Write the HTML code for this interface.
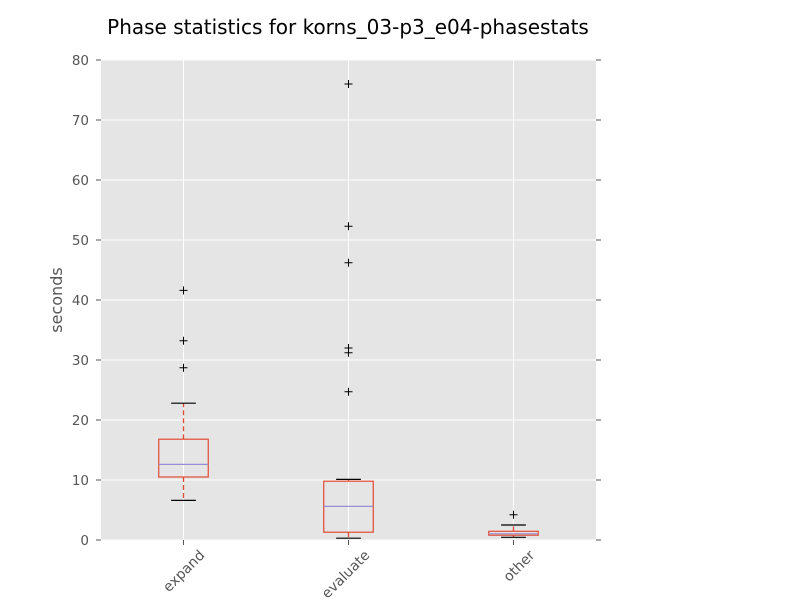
<!DOCTYPE html>
<html><head><meta charset="utf-8"><style>
body{margin:0;background:#fff;}
svg{font-family:"DejaVu Sans","Liberation Sans",sans-serif;}
</style></head><body>
<svg id="chart" width="800" height="600">
<rect x="0" y="0" width="800" height="600" fill="#fff"/>
<rect x="101" y="60" width="495" height="480" fill="#e5e5e5"/>
<g id="grid"></g><g id="ticks"></g><g id="marks"></g>
<text x="348" y="34" font-size="20" text-anchor="middle" fill="#000">Phase statistics for korns_03-p3_e04-phasestats</text>
<text x="62" y="300" font-size="16" text-anchor="middle" fill="#555" transform="rotate(-90 62 300)">seconds</text>
</svg>
<script>
const categories=["expand","evaluate","other"];
const q1=[10.5,1.3,0.8];
const median=[12.6,5.6,1.05];
const q3=[16.8,9.8,1.45];
const whiskerLow=[6.6,0.3,0.45];
const whiskerHigh=[22.8,10.1,2.5];
const outliers=[[41.6,33.2,28.7],[76,52.3,46.2,32,31.2,24.7],[4.2]];
const yTicks=[0,10,20,30,40,50,60,70,80];
const NS="http://www.w3.org/2000/svg";
const X0=101,X1=596,Y0=540,Y1=60,YMAX=80;
const y=v=>Y0-(v/YMAX)*(Y0-Y1);
const step=(X1-X0)/categories.length;
const x=i=>X0+step*(i+0.5);
function mk(tag,attrs,parent){const e=document.createElementNS(NS,tag);for(const k in attrs)e.setAttribute(k,attrs[k]);document.getElementById(parent).appendChild(e);return e;}
yTicks.forEach(t=>{
  let g=mk('line',{x1:X0,x2:X1,y1:y(t),y2:y(t),stroke:'#fff','stroke-width':1},'grid');
  
  
  let a=mk('line',{x1:X0-5,x2:X0,y1:y(t),y2:y(t),stroke:'#555'},'ticks');
  
  
  let b=mk('line',{x1:X1,x2:X1+5,y1:y(t),y2:y(t),stroke:'#555'},'ticks');
  
  
  let l=mk('text',{x:X0-12,y:y(t)+5,'font-size':13.5,'text-anchor':'end',fill:'#555'},'ticks');
  l.textContent=t;
  
  
});
categories.forEach((c,i)=>{
  const cx=x(i);
  let g=mk('line',{x1:cx,x2:cx,y1:Y1,y2:Y0,stroke:'#fff'},'grid');
  
  
  let t=mk('line',{x1:cx,x2:cx,y1:Y0,y2:Y0+5,stroke:'#555'},'ticks');
  
  
  const lx=cx+22,ly=Y0+16;
  let l=mk('text',{x:lx,y:ly,'font-size':14,'text-anchor':'end',fill:'#555',transform:`rotate(-45 ${lx} ${ly})`},'ticks');
  l.textContent=c;
  
  
  const bw=step*0.3,cw=bw/2;
  let w1=mk('line',{x1:cx,x2:cx,y1:y(q3[i]),y2:y(whiskerHigh[i]),stroke:'#E24A33','stroke-width':1.3,'stroke-dasharray':'5,3'},'marks');
  
  
  let w2=mk('line',{x1:cx,x2:cx,y1:y(q1[i]),y2:y(whiskerLow[i]),stroke:'#E24A33','stroke-width':1.3,'stroke-dasharray':'5,3'},'marks');
  
  
  let c1=mk('line',{x1:cx-cw/2,x2:cx+cw/2,y1:y(whiskerHigh[i]),y2:y(whiskerHigh[i]),stroke:'#000','stroke-width':1.2},'marks');
  
  
  let c2=mk('line',{x1:cx-cw/2,x2:cx+cw/2,y1:y(whiskerLow[i]),y2:y(whiskerLow[i]),stroke:'#000','stroke-width':1.2},'marks');
  
  
  let b=mk('rect',{x:cx-bw/2,y:y(q3[i]),width:bw,height:y(q1[i])-y(q3[i]),fill:'none',stroke:'#E24A33','stroke-width':1.2},'marks');
  
  
  let m=mk('line',{x1:cx-bw/2,x2:cx+bw/2,y1:y(median[i]),y2:y(median[i]),stroke:'#988ED5','stroke-width':1.2},'marks');
  
  
  outliers[i].forEach(o=>{
    let p=mk('path',{d:`M${cx-4},${y(o)}h8M${cx},${y(o)-4}v8`,stroke:'#000','stroke-width':1},'marks');
    
    
  });
});
</script>
</body></html>
